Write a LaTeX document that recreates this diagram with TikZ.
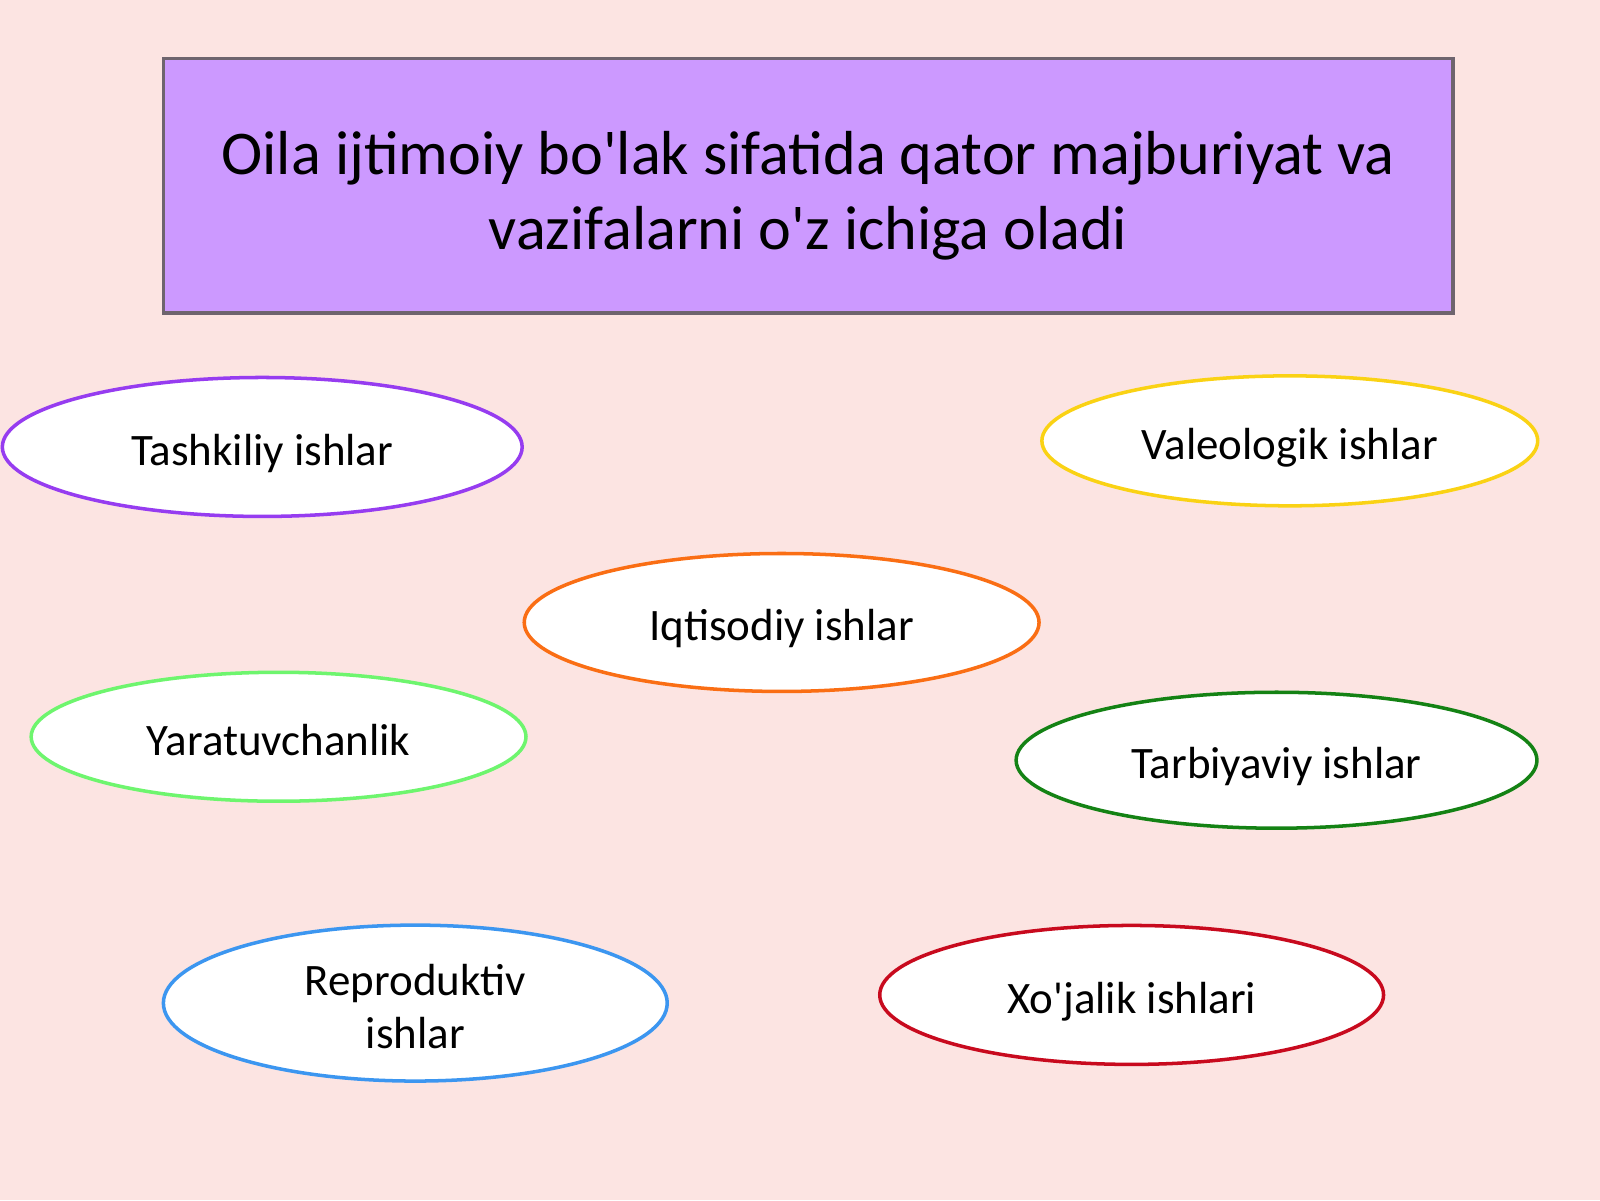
\documentclass[tikz,border=0pt]{standalone}
\usepackage{fontspec}
\setmainfont{Carlito}
\usetikzlibrary{shapes.geometric}
\definecolor{bgPink}{RGB}{252,228,226}
\definecolor{titleFill}{RGB}{204,153,255}
\definecolor{titleBorder}{RGB}{110,100,110}
\definecolor{purpleLine}{RGB}{150,60,240}
\definecolor{yellowLine}{RGB}{250,210,20}
\definecolor{orangeLine}{RGB}{250,110,20}
\definecolor{lightGreenLine}{RGB}{110,245,110}
\definecolor{darkGreenLine}{RGB}{20,130,20}
\definecolor{blueLine}{RGB}{60,150,240}
\definecolor{redLine}{RGB}{200,10,30}

\begin{document}
\begin{tikzpicture}[x=0.010204cm, y=-0.010204cm]

          \tikzstyle{titleNode} = [draw=titleBorder, line width=1pt, fill=titleFill,
                                   minimum width=12.90cm, minimum height=2.55cm,
                                   align=center, font=\fontsize{17.7}{21.1}\selectfont];
          \tikzstyle{taskNode} = [ellipse, fill=white, line width=1pt, inner sep=0pt,
                                  text height=12.4pt, text depth=2pt,
                                  align=center, font=\fontsize{12.8}{15.3}\selectfont];
          \tikzstyle{twoLineNode} = [text height=, text depth=];

          \fill[bgPink] (0,0) rectangle (1568,1176);

          \node[titleNode] (title) at (792,182)
               {\rule{0pt}{18pt}Oila ijtimoiy bo\textquotesingle lak sifatida qator majburiyat va\\vazifalarni o\textquotesingle z ichiga oladi};

          \node[taskNode, draw=purpleLine, minimum width=5.20cm, minimum height=1.39cm] (tashkiliy) at (257,438) {Tashkiliy ishlar};
          \node[taskNode, draw=yellowLine, minimum width=4.96cm, minimum height=1.30cm] (valeologik) at (1264,432) {Valeologik ishlar};
          \node[taskNode, draw=orangeLine, minimum width=5.15cm, minimum height=1.38cm] (iqtisodiy) at (766,610) {Iqtisodiy ishlar};
          \node[taskNode, draw=lightGreenLine, minimum width=4.95cm, minimum height=1.29cm] (yaratuvchanlik) at (273,722) {Yaratuvchanlik};
          \node[taskNode, draw=darkGreenLine, minimum width=5.21cm, minimum height=1.36cm] (tarbiyaviy) at (1251,745) {Tarbiyaviy ishlar};
          \node[taskNode, twoLineNode, draw=blueLine, minimum width=5.04cm, minimum height=1.56cm] (reproduktiv) at (407,983) {\rule{0pt}{10.8pt}Reproduktiv\\ishlar};
          \node[taskNode, draw=redLine, minimum width=5.04cm, minimum height=1.39cm] (xojalik) at (1109,975) {Xo\textquotesingle jalik ishlari};
        \end{tikzpicture}
\end{document}
